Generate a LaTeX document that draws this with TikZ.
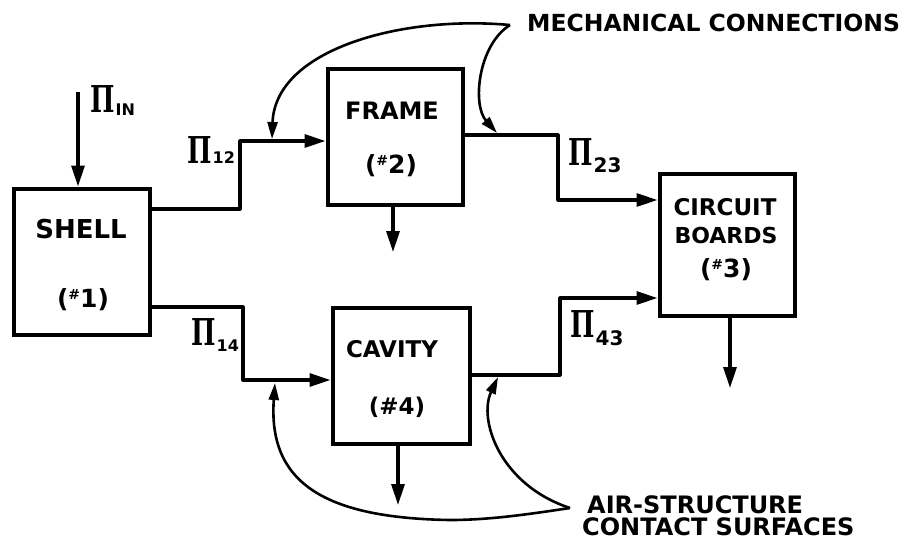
\documentclass[tikz,border=0pt]{standalone}
\usepackage{fontspec}
\setmainfont{DejaVu Sans}
\newfontfamily\pifont{DejaVu Serif}
\usepackage{graphicx}
\usetikzlibrary{arrows.meta}
\newcommand{\pilab}[3]{\scalebox{0.7}[1]{\fontsize{37}{37}\selectfont\pifont\bfseries Π}\hspace{1pt}\raisebox{-#2pt}{\fontsize{#3}{#3}\selectfont\bfseries #1}}
\newcommand{\hashsup}{\raisebox{0.35em}{\fontsize{14}{14}\selectfont\#}}
\begin{document}
\begin{tikzpicture}[x=1pt,y=-1pt,
  blk/.style={draw,line width=4pt,inner sep=0pt},
  txt/.style={inner sep=0pt},
  conn/.style={line width=3.2pt,line join=round,-{Triangle[length=21pt,width=13pt]}},
  pointer/.style={line width=2.6pt,-{Triangle[length=17pt,width=10pt]}}]
\fill[white] (0,0) rectangle (904,547);
\useasboundingbox (0,0) rectangle (904,547);

% boxes
\node[blk,minimum width=136pt,minimum height=146pt] (shell) at (81.5,261.5) {};
\node[blk,minimum width=135pt,minimum height=136pt] (frame) at (395,136.5) {};
\node[blk,minimum width=137pt,minimum height=136pt] (cavity) at (401,375.5) {};
\node[blk,minimum width=135pt,minimum height=142pt] (circuit) at (727,244.5) {};

% box texts
\node[txt,font=\bfseries\fontsize{26}{26}\selectfont] (shellT) at (81,229) {SHELL};
\node[txt,font=\bfseries\fontsize{25}{25}\selectfont] (shellN) at (83,300) {(\hashsup1)};
\node[txt,font=\bfseries\fontsize{24}{24}\selectfont] (frameT) at (392,111) {FRAME};
\node[txt,font=\bfseries\fontsize{25}{25}\selectfont] (frameN) at (391,166) {(\hashsup2)};
\node[txt,font=\bfseries\fontsize{23}{23}\selectfont] (cavT) at (392,349) {CAVITY};
\node[txt,font=\bfseries\fontsize{23}{23}\selectfont] (cavN) at (397,407) {(\#4)};
\node[txt,font=\bfseries\fontsize{23}{23}\selectfont] (cirT1) at (725,207) {CIRCUIT};
\node[txt,font=\bfseries\fontsize{22}{22}\selectfont] (cirT2) at (726,235) {BOARDS};
\node[txt,font=\bfseries\fontsize{25}{25}\selectfont] (cirN) at (726,270) {(\hashsup3)};

% annotation labels
\node[txt,anchor=west,font=\bfseries\fontsize{23.5}{23.5}\selectfont] (mech) at (527,23) {MECHANICAL CONNECTIONS};
\node[txt,anchor=west,font=\bfseries\fontsize{24}{24}\selectfont] (air1) at (587,505) {AIR-STRUCTURE};
\node[txt,anchor=west,font=\bfseries\fontsize{24}{24}\selectfont] (air2) at (582,527) {CONTACT SURFACES};

% Pi labels
\node[txt,anchor=base west] (pin) at (90,112) {\pilab{IN}{3}{16}};
\node[txt,anchor=base west] (p12) at (187,163) {\pilab{12}{0}{16}};
\node[txt,anchor=base west] (p14) at (191,345) {\pilab{14}{6}{16}};
\node[txt,anchor=base west] (p23) at (568,165) {\pilab{23}{7}{20}};
\node[txt,anchor=base west] (p43) at (570,337) {\pilab{43}{8}{20}};

% connectors
\coordinate (inS) at (78,92);
\draw[conn] (inS) -- (inS |- shell.north);
\coordinate (k12) at (240,141);
\draw[conn] (shell.east |- 0,209) -| (k12) -- (frame.west |- k12);
\coordinate (k14) at (243,380);
\draw[conn] (shell.east |- 0,307) -| (k14) -- (cavity.west |- k14);
\coordinate (k23) at (558,200);
\draw[conn] (frame.east |- 0,135) -| (k23) -- (circuit.west |- k23);
\coordinate (k43) at (560,298);
\draw[conn] (cavity.east |- 0,375) -| (k43) -- (circuit.west |- k43);

\coordinate (fOut) at (393,252);
\draw[conn] (frame.south -| fOut) -- (fOut);
\coordinate (cOut) at (398,505);
\draw[conn] (cavity.south -| cOut) -- (cOut);
\coordinate (bOut) at (730,388);
\draw[conn] (circuit.south -| bOut) -- (bOut);

% pointer curves
\coordinate (mtip) at (510,25);
\coordinate (mA) at (272,139);
\coordinate (mB) at (497,133);
\draw[pointer] (mtip) .. controls (400,15) and (275,50) .. (mA);
\draw[pointer] (mtip) .. controls (478,45) and (472,105) .. (mB);

\coordinate (atip) at (570,508);
\coordinate (aA) at (498,377);
\coordinate (aB) at (275,383);
\draw[pointer] (atip) .. controls (500,485) and (478,420) .. (aA);
\draw[pointer] (atip) .. controls (530,514) and (490,520) .. (450,520) .. controls (320,518) and (268,480) .. (aB);
\end{tikzpicture}
\end{document}
